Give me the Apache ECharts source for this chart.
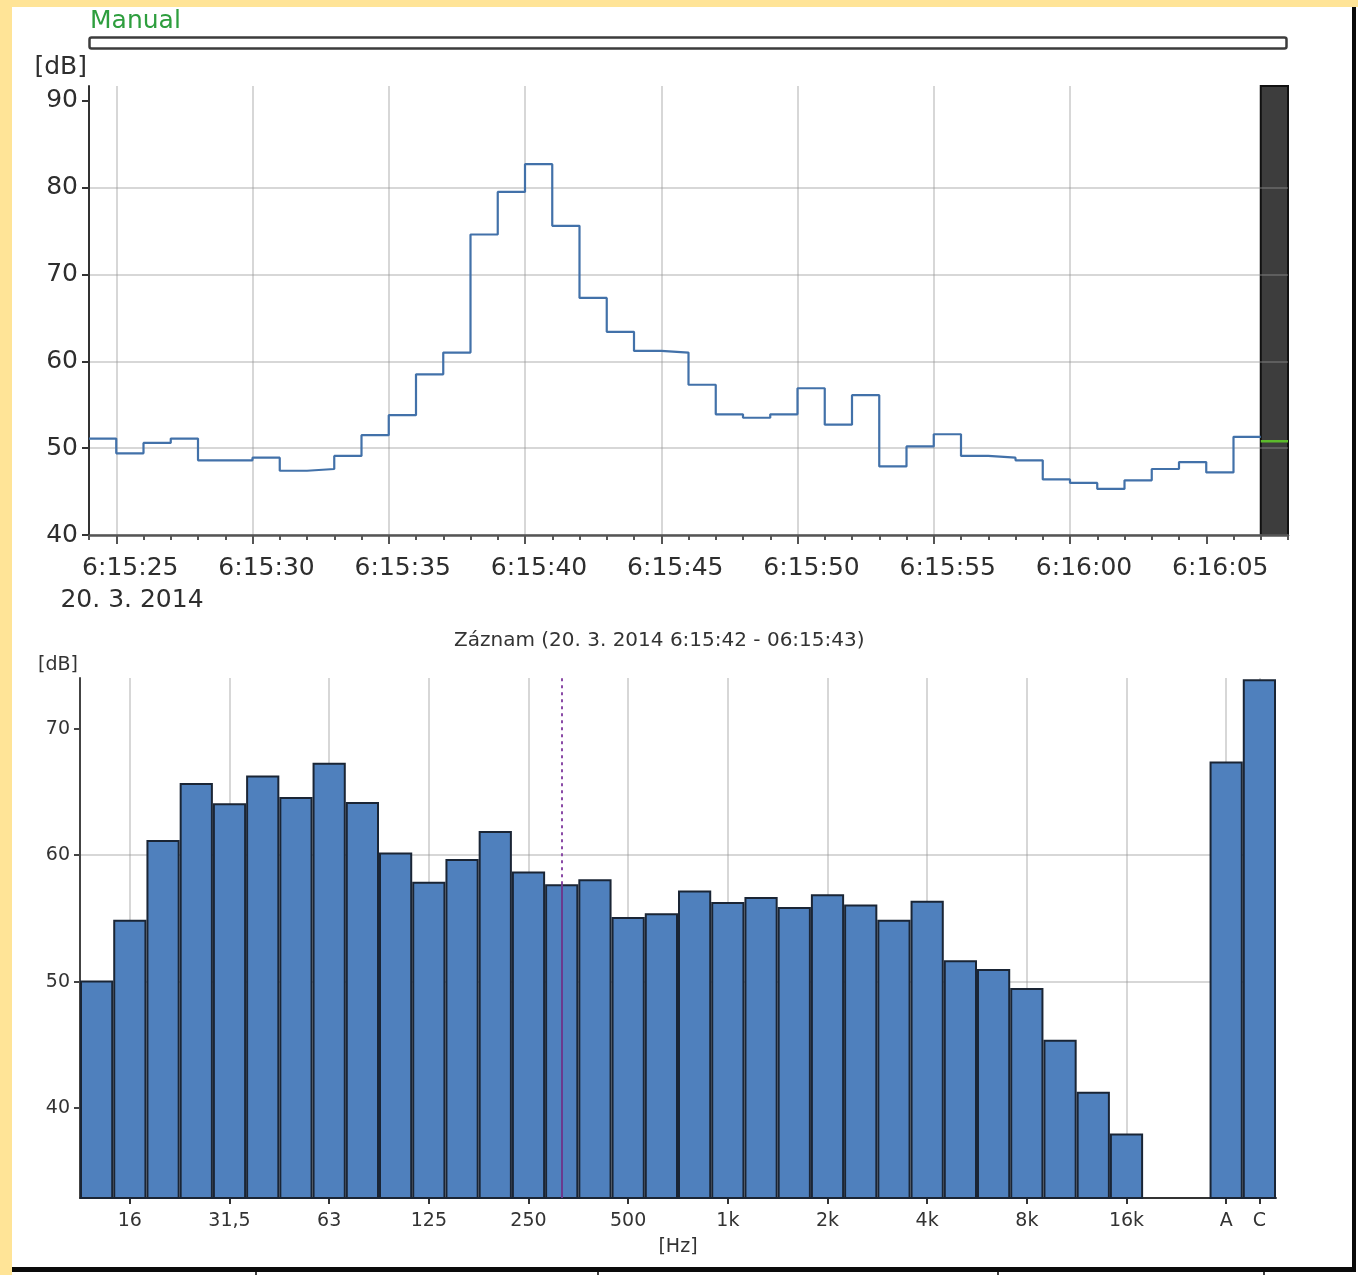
<!DOCTYPE html>
<html>
<head>
<meta charset="utf-8">
<script src="https://cdn.jsdelivr.net/npm/echarts@6/dist/echarts.min.js"></script>
<style>
  html, body { margin: 0; padding: 0; background: #ffffff; }
  #chart { width: 1358px; height: 1275px; }
</style>
</head>
<body>
<div id="chart"></div>
<script>
// ---- Level history: one value per second, first interval starts at 6:15:24 ----
const historyStartSecond = 24;            // seconds past 6:15:00
const historyLevels = [
  51.1, 49.4, 50.6, 51.1, 48.6, 48.6, 48.9, 47.4, 47.6, 49.1,
  51.5, 53.8, 58.5, 61.0, 74.6, 79.5, 82.7, 75.6, 67.3, 63.4,
  61.2, 61.0, 57.3, 53.9, 53.5, 53.9, 56.9, 52.7, 56.1, 47.9,
  50.2, 51.6, 49.1, 48.9, 48.6, 46.4, 46.0, 45.3, 46.3, 47.6,
  48.4, 47.2, 51.3
];
const currentLevel = 50.8;                 // running interval (cursor)
const timeTickSeconds = [25, 30, 35, 40, 45, 50, 55, 60, 65];
const timeTickLabels = ['6:15:25', '6:15:30', '6:15:35', '6:15:40', '6:15:45',
                        '6:15:50', '6:15:55', '6:16:00', '6:16:05'];
const dateLabel = '20. 3. 2014';
const levelTicks = [40, 50, 60, 70, 80, 90];

// ---- 1/3-octave spectrum of the selected record ----
const bandLabels = ['12,5', '16', '20', '25', '31,5', '40', '50', '63', '80', '100',
  '125', '160', '200', '250', '315', '400', '500', '630', '800', '1k',
  '1,25k', '1,6k', '2k', '2,5k', '3,15k', '4k', '5k', '6,3k', '8k', '10k',
  '12,5k', '16k'];
const bandLevels = [50.1, 54.9, 61.2, 65.7, 64.1, 66.3, 64.6, 67.3, 64.2, 60.2,
  57.9, 59.7, 61.9, 58.7, 57.7, 58.1, 55.1, 55.4, 57.2, 56.3,
  56.7, 55.9, 56.9, 56.1, 54.9, 56.4, 51.7, 51.0, 49.5, 45.4,
  41.3, 38.0];
const gapLabels = [' ', '  '];
const totalLabels = ['A', 'C'];
const totalLevels = [67.4, 73.9];
const spectrumTickLabels = ['16', '31,5', '63', '125', '250', '500', '1k', '2k',
  '4k', '8k', '16k', 'A', 'C'];
const spectrumTicks = [40, 50, 60, 70];
const markerBand = '315';
const recordTitle = 'Záznam (20. 3. 2014 6:15:42 - 06:15:43)';

// ---- derived structures ----
const historyPoints = historyLevels.map((v, i) => [historyStartSecond + i, v]);
const cursorSecond = historyStartSecond + historyLevels.length;
historyPoints.push([cursorSecond, historyLevels[historyLevels.length - 1]]);
const timeMin = historyStartSecond;
const timeMax = cursorSecond + 1;
const levelMin = 40, levelMax = 91.7;

const spectrumCategories = bandLabels.concat(gapLabels, totalLabels);
const spectrumValues = bandLevels.concat(gapLabels.map(() => null), totalLevels);
const spectrumTickIdx = spectrumTickLabels.map(l => spectrumCategories.indexOf(l));
const specMin = 32.9, specMax = 74.0;
const markerIdx = spectrumCategories.indexOf(markerBand);
const markerLevel = spectrumValues[markerIdx];

const FONT = 'DejaVu Sans';
const TEXT = '#2e2e2e';
const GRID_LINE = 'rgba(150,150,150,0.38)';

const chart = echarts.init(document.getElementById('chart'));

chart.setOption({
  animation: false,
  textStyle: { fontFamily: FONT },
  title: {
    text: recordTitle,
    left: 449, top: 626,
    textStyle: { fontFamily: FONT, fontSize: 20, fontWeight: 'normal', color: '#333' }
  },
  graphic: [
    // page frame
    { type: 'rect', shape: { x: 0, y: 0, width: 12, height: 1275 }, style: { fill: '#ffe497' }, silent: true },
    { type: 'rect', shape: { x: 0, y: 0, width: 1358, height: 7 }, style: { fill: '#ffe497' }, silent: true },
    { type: 'rect', shape: { x: 1352, y: 7, width: 4, height: 1265 }, style: { fill: '#0a0a0a' }, silent: true },
    { type: 'rect', shape: { x: 12, y: 1267, width: 1344, height: 5 }, style: { fill: '#0a0a0a' }, silent: true },
    { type: 'rect', shape: { x: 255, y: 1272, width: 2, height: 3 }, style: { fill: '#444' }, silent: true },
    { type: 'rect', shape: { x: 597, y: 1272, width: 2, height: 3 }, style: { fill: '#444' }, silent: true },
    { type: 'rect', shape: { x: 997, y: 1272, width: 2, height: 3 }, style: { fill: '#444' }, silent: true },
    { type: 'rect', shape: { x: 1263, y: 1272, width: 2, height: 3 }, style: { fill: '#444' }, silent: true },
    // mode indicator
    { type: 'text', left: 90, top: 9, style: { text: 'Manual', fill: '#2e9e3e', font: '25px "DejaVu Sans"' }, silent: true },
    { type: 'rect', shape: { x: 89.5, y: 37.5, width: 1197, height: 11, r: 2 },
      style: { fill: '#ffffff', stroke: '#3c3c3c', lineWidth: 2.5 }, silent: true },
    // date of the time axis, under its first label
    { type: 'text', x: 132, y: 600, silent: true,
      style: { text: dateLabel, fill: TEXT, font: '25px "DejaVu Sans"', align: 'center', verticalAlign: 'middle' } }
  ],
  grid: [
    { left: 89, top: 86, width: 1199, height: 449 },
    { left: 80, top: 678, width: 1196, height: 520 }
  ],
  xAxis: [
    { // one tick per second
      type: 'value', gridIndex: 0, position: 'bottom',
      min: timeMin, max: timeMax, interval: 1,
      axisLine: { show: true, onZero: false, lineStyle: { color: '#555', width: 2.5 } },
      axisTick: { show: true, length: 5, lineStyle: { color: '#555', width: 2 } },
      axisLabel: { show: false },
      splitLine: { show: false }
    },
    { // labelled 5 s ticks and vertical grid
      type: 'value', gridIndex: 0, position: 'bottom',
      min: timeMin, max: timeMax, splitNumber: 9,
      axisLine: { show: false, onZero: false },
      axisTick: { show: true, length: 9, customValues: timeTickSeconds, lineStyle: { color: '#555', width: 2 } },
      axisLabel: {
        show: true, customValues: timeTickSeconds,
        showMinLabel: true, showMaxLabel: true, hideOverlap: false,
        fontSize: 25, lineHeight: 34, color: TEXT, margin: 16,
        align: 'center', padding: [0, 0, 0, 28],
        formatter: v => {
          const i = timeTickSeconds.indexOf(v);
          return i < 0 ? '' : timeTickLabels[i];
        }
      },
      splitLine: { show: true, showMinLine: true, showMaxLine: false, lineStyle: { color: GRID_LINE, width: 2 } }
    },
    {
      type: 'category', gridIndex: 1, data: spectrumCategories,
      name: '[Hz]', nameLocation: 'middle', nameGap: 38,
      nameTextStyle: { fontSize: 19, color: '#333', lineHeight: 22 },
      axisLine: { show: true, lineStyle: { color: '#333', width: 2 } },
      axisTick: { show: true, alignWithLabel: true, length: 6,
        interval: idx => spectrumTickIdx.includes(idx),
        lineStyle: { color: '#333', width: 2 } },
      axisLabel: { interval: idx => spectrumTickIdx.includes(idx),
        fontSize: 19, lineHeight: 22, color: '#333', margin: 12 },
      splitLine: { show: false }
    }
  ],
  yAxis: [
    {
      type: 'value', gridIndex: 0, min: levelMin, max: levelMax, interval: 10,
      name: '[dB]', nameLocation: 'end', nameGap: 4,
      nameTextStyle: { fontSize: 25, color: TEXT, align: 'right', verticalAlign: 'bottom', lineHeight: 30, padding: [0, 2, 0, 0] },
      axisLine: { show: true, lineStyle: { color: '#333', width: 2 } },
      axisTick: { show: true, length: 7, customValues: levelTicks, lineStyle: { color: '#333', width: 2 } },
      axisLabel: { customValues: levelTicks, fontSize: 25, color: TEXT, margin: 11,
        formatter: v => levelTicks.includes(v) ? String(v) : '' },
      splitLine: { show: true, showMaxLine: false, lineStyle: { color: GRID_LINE, width: 2 } }
    },
    {
      type: 'value', gridIndex: 1, min: specMin, max: specMax, splitNumber: 4,
      name: '[dB]', nameLocation: 'end', nameGap: 2,
      nameTextStyle: { fontSize: 19, color: '#333', align: 'right', verticalAlign: 'bottom', lineHeight: 22, padding: [0, 2, 0, 0] },
      axisLine: { show: true, lineStyle: { color: '#444', width: 2 } },
      axisTick: { show: true, length: 6, customValues: spectrumTicks, lineStyle: { color: '#444', width: 2 } },
      axisLabel: { customValues: spectrumTicks, fontSize: 19, color: '#333', margin: 10,
        formatter: v => spectrumTicks.includes(v) ? String(v) : '' },
      splitLine: { show: true, showMinLine: false, showMaxLine: false, lineStyle: { color: GRID_LINE, width: 2 } }
    }
  ],
  series: [
    {
      name: 'LAeq 1s', type: 'line', xAxisIndex: 0, yAxisIndex: 0,
      step: 'end', symbol: 'none', data: historyPoints, z: 3,
      lineStyle: { color: '#4271a9', width: 2.2 },
      markArea: {
        silent: true, z: -1,
        itemStyle: { color: '#3d3d3d', borderColor: '#111', borderWidth: 2 },
        data: [[{ coord: [cursorSecond, levelMin] }, { coord: [timeMax, levelMax] }]]
      }
    },
    {
      name: 'current', type: 'line', xAxisIndex: 0, yAxisIndex: 0,
      symbol: 'none', z: 4,
      data: [[cursorSecond, currentLevel], [timeMax, currentLevel]],
      lineStyle: { color: '#5cbb2c', width: 2.5 }
    },
    {
      name: 'spectrum', type: 'bar', xAxisIndex: 2, yAxisIndex: 1,
      data: spectrumValues, barCategoryGap: '0%', z: 2,
      itemStyle: { color: '#4f80bd', borderColor: '#1a2535', borderWidth: 2 },
      markLine: {
        silent: true, z: 1, symbol: 'none', label: { show: false },
        lineStyle: { color: GRID_LINE, width: 2, type: 'solid' },
        data: spectrumTickIdx.map(i => ({ xAxis: i }))
      }
    },
    {
      name: 'cursor', type: 'line', xAxisIndex: 2, yAxisIndex: 1, data: [],
      markLine: {
        silent: true, z: 5, symbol: 'none', label: { show: false },
        data: [
          [{ coord: [markerIdx, markerLevel], lineStyle: { color: '#8a4aa6', width: 2, type: [3, 4] } },
           { coord: [markerIdx, specMax] }],
          [{ coord: [markerIdx, specMin], lineStyle: { color: '#6a3a8e', width: 2, type: 'solid' } },
           { coord: [markerIdx, markerLevel] }]
        ]
      }
    }
  ]
});
</script>
</body>
</html>
